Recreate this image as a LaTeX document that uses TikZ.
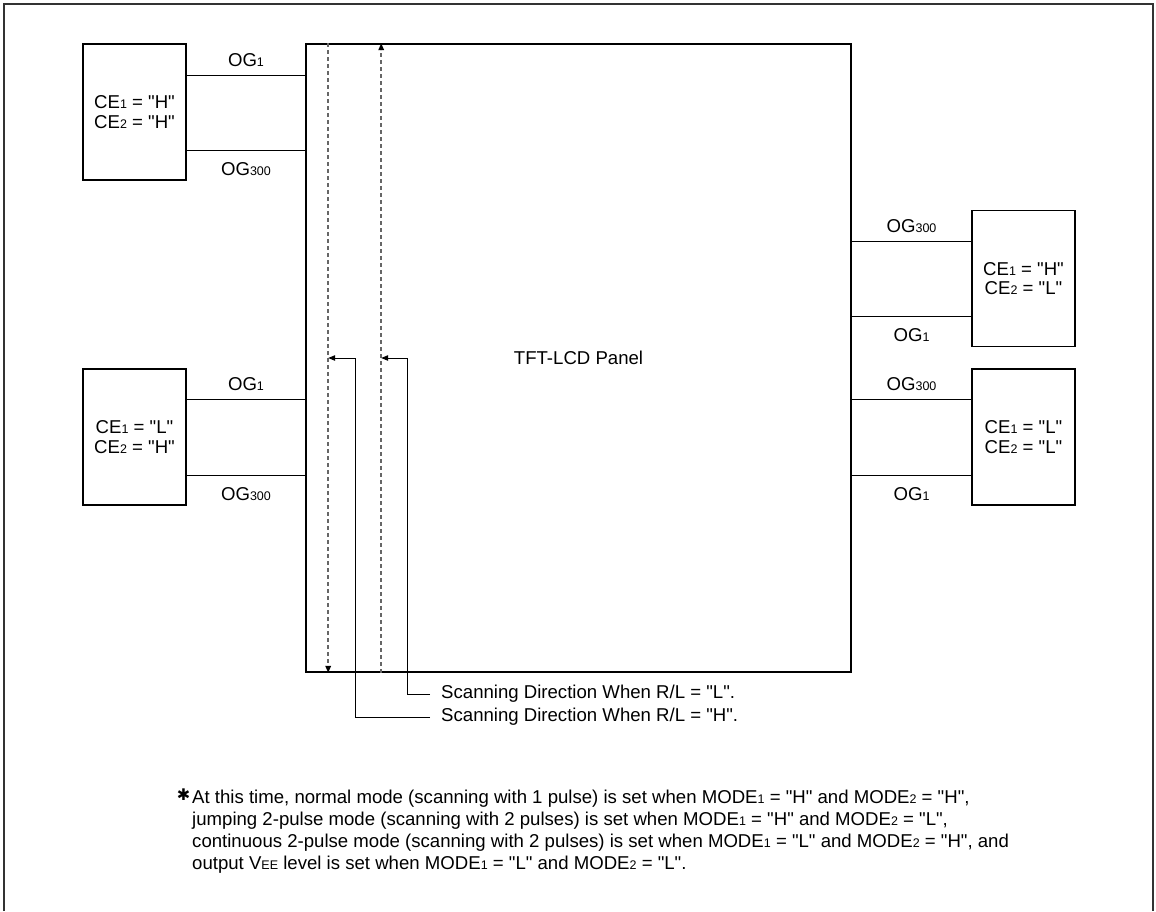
\documentclass[tikz,border=0pt]{standalone}
\usepackage{fontspec}
\setmainfont[Ligatures=TeXOff]{Liberation Sans}
\newfontfamily\symbolfont{DejaVu Sans}
\usetikzlibrary{arrows.meta, positioning}

\newcommand{\smallidx}[1]{{\fontsize{12.5}{12.5}\selectfont #1}}

\begin{document}
\begin{tikzpicture}[
  x=1pt, y=1pt,
  font=\fontsize{18.6}{19.5}\selectfont,
  driver/.style={
    rectangle, draw, line width=1.6pt, minimum width=103pt,
    minimum height=136pt, inner sep=0pt, align=center
  },
  panel/.style={rectangle, draw, line width=1.6pt, minimum width=545pt, minimum height=628pt},
  gline/.style={line width=0.9pt},
  gabove/.style={above=6pt, inner sep=2pt},
  gbelow/.style={below=10pt, inner sep=2pt},
  scanline/.style={dash pattern=on 4pt off 3pt, draw=black!60, line width=1.6pt},
  scantip/.style={-{Triangle[length=7pt, width=5.5pt, color=black]}},
  pointer/.style={-{Triangle[length=7pt, width=5.5pt]}, line width=0.9pt},
  scanlabel/.style={anchor=west, inner sep=0pt},
  frame/.style={draw=black!80, line width=1.3pt},
]

\useasboundingbox (0,0) rectangle (1156,-911);

\def\colL{134.5}
\def\colP{578.5}
\def\colR{1023.5}

\def\rA{-112}
\def\rB{-437}
\def\rC{-278.5}
\def\rD{-437}

% outer frame (open at the bottom)
\draw[frame] (4,-911) -- (4,-4) -- (1153,-4) -- (1153,-911);

% panel and gate drivers
\node[panel] (lcd) at (\colP, -358) {TFT-LCD Panel};

\node[driver] (hh) at (\colL, \rA) {CE\smallidx{1} = "H"\\CE\smallidx{2} = "H"};
\node[driver] (lh) at (\colL, \rB) {CE\smallidx{1} = "L"\\CE\smallidx{2} = "H"};
\node[driver] (hl) at (\colR, \rC) {CE\smallidx{1} = "H"\\CE\smallidx{2} = "L"};
\node[driver] (ll) at (\colR, \rD) {CE\smallidx{1} = "L"\\CE\smallidx{2} = "L"};

% gate outputs, left side
\coordinate (hh1) at ([yshift=37pt]hh.east);
\coordinate (hh2) at ([yshift=-38pt]hh.east);
\draw[gline] (hh1) -- node[gabove] {OG\smallidx{1}} (hh1 -| lcd.west);
\draw[gline] (hh2) -- node[gbelow] {OG\smallidx{300}} (hh2 -| lcd.west);

\coordinate (lh1) at ([yshift=38pt]lh.east);
\coordinate (lh2) at ([yshift=-38pt]lh.east);
\draw[gline] (lh1) -- node[gabove] {OG\smallidx{1}} (lh1 -| lcd.west);
\draw[gline] (lh2) -- node[gbelow] {OG\smallidx{300}} (lh2 -| lcd.west);

% gate outputs, right side
\coordinate (hl1) at ([yshift=37.5pt]hl.west);
\coordinate (hl2) at ([yshift=-37.5pt]hl.west);
\draw[gline] (hl1 -| lcd.east) -- node[gabove] {OG\smallidx{300}} (hl1);
\draw[gline] (hl2 -| lcd.east) -- node[gbelow] {OG\smallidx{1}} (hl2);

\coordinate (ll1) at ([yshift=38pt]ll.west);
\coordinate (ll2) at ([yshift=-38pt]ll.west);
\draw[gline] (ll1 -| lcd.east) -- node[gabove] {OG\smallidx{300}} (ll1);
\draw[gline] (ll2 -| lcd.east) -- node[gbelow] {OG\smallidx{1}} (ll2);

% scanning directions inside the panel
\draw[scanline, scantip] ([xshift=23pt]lcd.north west) -- ([xshift=23pt]lcd.south west);
\draw[scanline, scantip] ([xshift=76pt]lcd.south west) -- ([xshift=76pt]lcd.north west);

\coordinate (tipH)  at ([xshift=23pt]lcd.west);
\coordinate (kneeH) at ([xshift=50pt]lcd.west);
\coordinate (tipL)  at ([xshift=76pt]lcd.west);
\coordinate (kneeL) at ([xshift=102pt]lcd.west);

\node[scanlabel] (lblL) at (441, -694) {Scanning Direction When R/L = "L".};
\node[scanlabel] (lblH) at (441, -717) {Scanning Direction When R/L = "H".};

\draw[pointer] ([xshift=-11pt]lblL.west) -| (kneeL) -- (tipL);
\draw[pointer] ([xshift=-11pt]lblH.west) -| (kneeH) -- (tipH);

% footnote
\node[anchor=north west, align=left, inner sep=0pt, font=\fontsize{18.6}{22}\selectfont] (note) at (192, -789)
  {\llap{\raisebox{2.5pt}{\symbolfont\fontsize{16}{16}\selectfont ✱}\kern2pt}At this time, normal mode (scanning with 1 pulse) is set when MODE\smallidx{1} = "H" and MODE\smallidx{2} = "H",\\
   jumping 2-pulse mode (scanning with 2 pulses) is set when MODE\smallidx{1} = "H" and MODE\smallidx{2} = "L",\\
   continuous 2-pulse mode (scanning with 2 pulses) is set when MODE\smallidx{1} = "L" and MODE\smallidx{2} = "H", and\\
   output V\smallidx{EE} level is set when MODE\smallidx{1} = "L" and MODE\smallidx{2} = "L".};

\end{tikzpicture}
\end{document}
